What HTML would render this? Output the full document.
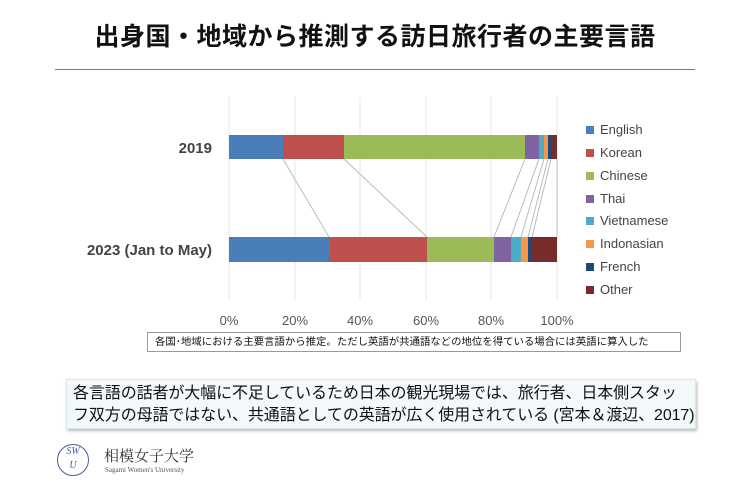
<!DOCTYPE html><html><head><meta charset="utf-8"><style>
body{margin:0;width:750px;height:500px;background:#fff;font-family:"Liberation Sans","Noto Sans CJK JP",sans-serif;position:relative;overflow:hidden}
.a{position:absolute}
</style></head><body>
<div class="a" style="left:0;width:750px;top:17px;text-align:center;font-size:25px;font-weight:bold;color:#111;letter-spacing:0.5px">出身国・地域から推測する訪日旅行者の主要言語</div>
<div class="a" style="left:55px;width:640px;top:69px;height:1px;background:#5a7fb5"></div>
<svg class="a" style="left:0;top:0" width="750" height="370">
<g stroke="#e6e6e6" stroke-width="1">
<line x1="229" y1="97" x2="229" y2="300"/><line x1="295" y1="97" x2="295" y2="300"/><line x1="360" y1="97" x2="360" y2="300"/><line x1="426" y1="97" x2="426" y2="300"/><line x1="491" y1="97" x2="491" y2="300"/><line x1="557" y1="97" x2="557" y2="300"/></g>
<g stroke="#bbb" stroke-width="1">
<line x1="283" y1="159" x2="329" y2="237"/><line x1="344" y1="159" x2="427" y2="237"/><line x1="525" y1="159" x2="494" y2="237"/><line x1="539" y1="159" x2="511" y2="237"/><line x1="544" y1="159" x2="521" y2="237"/><line x1="548" y1="159" x2="528" y2="237"/><line x1="551" y1="159" x2="532" y2="237"/><line x1="557" y1="159" x2="557" y2="237"/></g>
<g>
<rect x="229" y="135" width="54" height="24" fill="#4a7ebb"/><rect x="283" y="135" width="61" height="24" fill="#c0504d"/><rect x="344" y="135" width="181" height="24" fill="#9bbb59"/><rect x="525" y="135" width="14" height="24" fill="#8064a2"/><rect x="539" y="135" width="5" height="24" fill="#4bacc6"/><rect x="544" y="135" width="4" height="24" fill="#f79646"/><rect x="548" y="135" width="3" height="24" fill="#1f497d"/><rect x="551" y="135" width="6" height="24" fill="#772c2a"/>
<rect x="229" y="237" width="100" height="25" fill="#4a7ebb"/><rect x="329" y="237" width="98" height="25" fill="#c0504d"/><rect x="427" y="237" width="67" height="25" fill="#9bbb59"/><rect x="494" y="237" width="17" height="25" fill="#8064a2"/><rect x="511" y="237" width="10" height="25" fill="#4bacc6"/><rect x="521" y="237" width="7" height="25" fill="#f79646"/><rect x="528" y="237" width="4" height="25" fill="#1f497d"/><rect x="532" y="237" width="25" height="25" fill="#772c2a"/></g>
<g font-family="Liberation Sans" font-size="15" font-weight="bold" fill="#444" text-anchor="end">
<text x="212" y="153">2019</text><text x="212" y="255">2023 (Jan to May)</text></g>
<g font-family="Liberation Sans" font-size="13" fill="#555" text-anchor="middle">
<text x="229" y="325">0%</text><text x="295" y="325">20%</text><text x="360" y="325">40%</text><text x="426" y="325">60%</text><text x="491" y="325">80%</text><text x="557" y="325">100%</text></g>
<g font-family="Liberation Sans" font-size="13" fill="#444">
<rect x="586" y="126" width="8" height="8" fill="#4a7ebb"/><text x="600" y="134">English</text>
<rect x="586" y="149" width="8" height="8" fill="#c0504d"/><text x="600" y="157">Korean</text>
<rect x="586" y="172" width="8" height="8" fill="#9bbb59"/><text x="600" y="180">Chinese</text>
<rect x="586" y="195" width="8" height="8" fill="#8064a2"/><text x="600" y="203">Thai</text>
<rect x="586" y="217" width="8" height="8" fill="#4bacc6"/><text x="600" y="225">Vietnamese</text>
<rect x="586" y="240" width="8" height="8" fill="#f79646"/><text x="600" y="248">Indonasian</text>
<rect x="586" y="263" width="8" height="8" fill="#1f497d"/><text x="600" y="271">French</text>
<rect x="586" y="286" width="8" height="8" fill="#772c2a"/><text x="600" y="294">Other</text></g>
</svg>
<div class="a" style="left:147px;top:332px;width:534px;height:20px;border:1px solid #999;font-size:10.4px;line-height:19px;padding-left:7px;box-sizing:border-box;color:#111;white-space:nowrap">各国･地域における主要言語から推定。ただし英語が共通語などの地位を得ている場合には英語に算入した</div>
<div class="a" style="left:66px;top:379px;width:630px;height:50px;background:#f3f8fb;box-shadow:1px 2px 3px #bbb;border:1px solid #d8e6ee;box-sizing:border-box;font-size:16px;line-height:22px;padding:3px 0 0 6px;color:#111;white-space:nowrap;letter-spacing:-0.1px">各言語の話者が大幅に不足しているため日本の観光現場では、旅行者、日本側スタッ<br>フ双方の母語ではない、共通語としての英語が広く使用されている (宮本＆渡辺、2017)</div>
<div class="a" style="left:57px;top:444px;width:30px;height:30px;border:1px solid #4a5a9a;border-radius:50%;font:italic 10px 'Liberation Serif',serif;color:#4a5a9a;text-align:center;line-height:14px">SW<br>U</div>
<div class="a" style="left:104px;top:445px;font-family:'Noto Serif CJK SC',serif;font-size:15px;color:#333">相模女子大学</div>
<div class="a" style="left:105px;top:466px;font-family:'Liberation Serif',serif;font-size:7px;color:#555">Sagami Women's University</div>
</body></html>
